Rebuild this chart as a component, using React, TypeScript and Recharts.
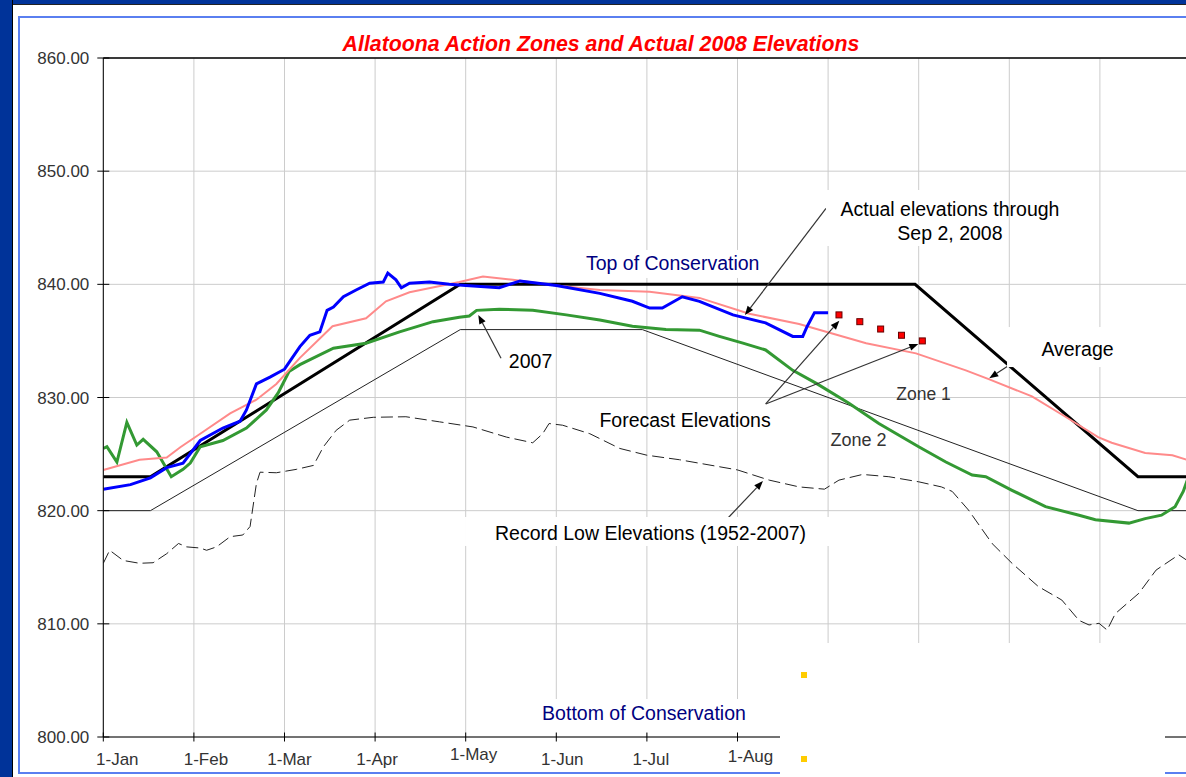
import React from 'react';
import {
  LineChart,
  Line,
  XAxis,
  YAxis,
  CartesianGrid,
  ReferenceLine,
  ReferenceDot,
} from 'recharts';

type Pt = { t: number; v: number };
// t = months since 1-Jan (the chart spaces months evenly), v = pool elevation (ft)
const pts = (rows: number[][]): Pt[] => rows.map(([t, v]) => ({ t, v }));

const monthLabels = [
  '1-Jan', '1-Feb', '1-Mar', '1-Apr', '1-May', '1-Jun',
  '1-Jul', '1-Aug', '1-Sep', '1-Oct', '1-Nov', '1-Dec',
];
const monthTicks = [0, 1, 2, 3, 4, 5, 6, 7, 8, 9, 10, 11];
const elevTicks = [800, 810, 820, 830, 840, 850, 860];

const topOfConservation = pts([
  [0, 823], [0.52, 823], [3.94, 840], [8.96, 840], [11.42, 823], [12, 823],
]);

const zoneLine = pts([
  [0, 820], [0.52, 820], [3.94, 836], [5.95, 836], [11.42, 820], [12, 820],
]);

const average = pts([
  [0, 823.6], [0.4, 824.5], [0.7, 824.7], [0.85, 825.6], [1.07, 826.8],
  [1.4, 828.6], [1.69, 829.8], [1.91, 831.2], [2.17, 833.5], [2.53, 836.3],
  [2.9, 837.0], [3.12, 838.5], [3.38, 839.3], [3.93, 840.2], [4.19, 840.7],
  [4.52, 840.4], [5.0, 839.9], [5.48, 839.5], [6.03, 839.35], [6.58, 838.8],
  [7.13, 837.4], [7.68, 836.5], [8.42, 834.8], [8.97, 833.9], [9.52, 832.4],
  [9.78, 831.6], [10.25, 830.1], [10.62, 828.3], [10.98, 826.5], [11.13, 826.0],
  [11.5, 825.1], [11.8, 824.9], [12, 824.4],
]);

const actual2008 = pts([
  [0, 821.9], [0.3, 822.3], [0.52, 822.9], [0.7, 823.8], [0.88, 824.2],
  [1.07, 826.2], [1.32, 827.3], [1.51, 827.9], [1.58, 828.9], [1.69, 831.2],
  [1.84, 831.8], [2.0, 832.5], [2.17, 834.5], [2.28, 835.5], [2.39, 835.8],
  [2.47, 837.7], [2.54, 838.0], [2.65, 838.9], [2.79, 839.5], [2.94, 840.1],
  [3.09, 840.2], [3.14, 841.0], [3.23, 840.4], [3.29, 839.7], [3.38, 840.1],
  [3.6, 840.2], [3.82, 840.0], [4.0, 839.9], [4.37, 839.7], [4.6, 840.3],
  [5.0, 839.9], [5.48, 839.2], [5.84, 838.5], [6.03, 837.9], [6.17, 837.9],
  [6.39, 838.9], [6.58, 838.5], [6.95, 837.3], [7.31, 836.6], [7.61, 835.4],
  [7.72, 835.4], [7.77, 836.3], [7.85, 837.5], [8.0, 837.5],
]);

const year2007 = pts([
  [0, 825.5], [0.04, 825.65], [0.15, 824.3], [0.26, 827.8], [0.37, 825.8],
  [0.44, 826.3], [0.59, 825.2], [0.75, 823.0], [0.88, 823.65], [0.96, 824.2],
  [1.07, 825.65], [1.32, 826.2], [1.58, 827.3], [1.8, 828.9], [1.93, 830.4],
  [2.0, 831.5], [2.05, 832.3], [2.17, 832.9], [2.54, 834.35], [2.9, 834.8],
  [3.27, 835.8], [3.64, 836.7], [3.93, 837.1], [4.04, 837.2], [4.12, 837.7],
  [4.37, 837.8], [4.74, 837.7], [5.11, 837.3], [5.48, 836.85], [5.84, 836.3],
  [6.21, 836.0], [6.58, 835.95], [6.8, 835.4], [7.06, 834.8], [7.31, 834.2],
  [7.61, 832.4], [7.87, 831.25], [8.23, 829.5], [8.56, 827.7], [9.0, 825.65],
  [9.3, 824.3], [9.59, 823.15], [9.74, 823.0], [10.03, 821.8], [10.4, 820.35],
  [10.77, 819.6], [10.95, 819.2], [11.32, 818.9], [11.5, 819.3], [11.68, 819.6],
  [11.83, 820.35], [11.92, 821.7], [12, 823.5],
]);

const recordLow = pts([
  [0, 815.35], [0.07, 816.5], [0.22, 815.6], [0.4, 815.35], [0.55, 815.4],
  [0.7, 816.2], [0.83, 817.1], [0.92, 816.8], [1.07, 816.7], [1.14, 816.5],
  [1.25, 816.8], [1.4, 817.7], [1.54, 817.85], [1.62, 818.6], [1.69, 822.4],
  [1.73, 823.4], [1.91, 823.35], [2.13, 823.65], [2.32, 824.0], [2.43, 825.65],
  [2.57, 827.1], [2.72, 828.0], [2.98, 828.25], [3.34, 828.3], [3.71, 827.85],
  [4.08, 827.4], [4.45, 826.5], [4.74, 826.0], [4.85, 826.8], [4.92, 827.7],
  [5.07, 827.55], [5.37, 826.8], [5.7, 825.5], [6.0, 824.9], [6.36, 824.5],
  [7.0, 823.6], [7.35, 822.7], [7.68, 822.1], [7.96, 821.9], [8.12, 822.7],
  [8.38, 823.2], [8.67, 823.0], [9.0, 822.55], [9.25, 822.1], [9.37, 821.7],
  [9.55, 820.05], [9.81, 817.1], [10.03, 815.35], [10.32, 813.3], [10.58, 812.1],
  [10.77, 810.3], [10.88, 809.9], [10.99, 810.05], [11.08, 809.45], [11.17, 810.9],
  [11.43, 812.7], [11.62, 814.75], [11.87, 816.1], [12, 815.4],
]);

const forecast = pts([
  [8.12, 837.3], [8.35, 836.7], [8.58, 836.05], [8.81, 835.5], [9.04, 835.0],
]);

const FONT = '"Liberation Sans", Arial, sans-serif';
const NAVY = '#003399';

// small per-label shifts the original slide shows under the month ticks
const xLabelShift: Record<number, [number, number]> = {
  0: [14, 0], 1: [12, 0], 2: [5, 0], 3: [2, 0], 4: [8, -5], 5: [6, 0], 6: [4, 0], 7: [13, -3],
};

function YTick({ x, y, payload }: any) {
  return (
    <g>
      <line x1={x - 6} x2={x + 6} y1={y} y2={y} stroke="#000" />
      <text x={x - 14} y={y + 6} textAnchor="end" fontSize={17} fill="#333" fontFamily={FONT}>
        {Number(payload.value).toFixed(2)}
      </text>
    </g>
  );
}

function XTick({ x, y, payload }: any) {
  const [dx, dy] = xLabelShift[payload.value] ?? [8, 0];
  return (
    <g>
      <line x1={x} x2={x} y1={y - 4.5} y2={y + 4.5} stroke="#000" />
      <text x={x + dx} y={y + 28 + dy} textAnchor="middle" fontSize={17} fill="#333" fontFamily={FONT}>
        {monthLabels[payload.value]}
      </text>
    </g>
  );
}

type NoteProps = {
  cx?: number;
  cy?: number;
  lines: string[];
  size?: number;
  color?: string;
  box?: [number, number, number, number];
};

function Note({ cx = 0, cy = 0, lines, size = 19.5, color = '#000', box }: NoteProps) {
  return (
    <g>
      {box && (
        <rect x={cx + box[0]} y={cy + box[1]} width={box[2]} height={box[3]} fill="#fff" />
      )}
      {lines.map((s, i) => (
        <text
          key={i}
          x={cx}
          y={cy + i * 24}
          textAnchor="middle"
          fontSize={size}
          fill={color}
          fontFamily={FONT}
        >
          {s}
        </text>
      ))}
    </g>
  );
}

function Arrow({ x1, y1, x2, y2 }: any) {
  const a = Math.atan2(y2 - y1, x2 - x1);
  const len = 9;
  const half = 3.5;
  const bx = x2 - len * Math.cos(a);
  const by = y2 - len * Math.sin(a);
  const px = -Math.sin(a) * half;
  const py = Math.cos(a) * half;
  return (
    <g>
      <line x1={x1} y1={y1} x2={bx} y2={by} stroke="#333" strokeWidth={1.2} />
      <polygon points={`${x2},${y2} ${bx + px},${by + py} ${bx - px},${by - py}`} fill="#000" />
    </g>
  );
}

const ForecastDot = (p: any) => (
  <rect
    key={p.index}
    x={p.cx - 3}
    y={p.cy - 3}
    width={6}
    height={6}
    fill="#ff0000"
    stroke="#660000"
    strokeWidth={1}
  />
);

export default function App() {
  return (
    <div
      style={{
        position: 'fixed',
        left: 0,
        top: 0,
        width: 1186,
        height: 777,
        overflow: 'hidden',
        background: '#fff',
        fontFamily: FONT,
      }}
    >
      <div
        style={{
          position: 'absolute', left: 0, top: 0, width: 1186, height: 4,
          background: NAVY, borderBottom: '1px solid #222',
        }}
      />
      <div
        style={{
          position: 'absolute', left: 0, top: 0, width: 12, height: 777,
          background: NAVY, borderRight: '1px solid #000',
        }}
      />
      <div
        style={{
          position: 'absolute', left: 18, top: 16, width: 1168, height: 758,
          borderTop: '2px solid #5a7ff0', borderLeft: '2px solid #5a7ff0',
          borderBottom: '2px solid #5a7ff0', boxSizing: 'border-box',
        }}
      />

      <div style={{ position: 'absolute', left: 0, top: 0 }}>
        <LineChart width={1200} height={777} margin={{ top: 58, right: 9.5, bottom: 10, left: 33.3 }}>
          <CartesianGrid stroke="#cccccc" />
          <XAxis
            type="number"
            dataKey="t"
            domain={[0, 12]}
            ticks={monthTicks}
            interval={0}
            height={30}
            tickSize={0}
            tickMargin={0}
            tickLine={false}
            axisLine={{ stroke: '#000' }}
            tick={<XTick />}
            allowDataOverflow
          />
          <YAxis
            type="number"
            domain={[800, 860]}
            ticks={elevTicks}
            interval={0}
            width={70}
            tickSize={0}
            tickMargin={0}
            tickLine={false}
            axisLine={{ stroke: '#000' }}
            tick={<YTick />}
            allowDataOverflow
          />
          <ReferenceLine y={860} stroke="#000" strokeWidth={1.5} />

          <Line data={recordLow} dataKey="v" type="linear" stroke="#222" strokeWidth={1}
            strokeDasharray="12 5" dot={false} activeDot={false} isAnimationActive={false} />
          <Line data={zoneLine} dataKey="v" type="linear" stroke="#222" strokeWidth={1}
            dot={false} activeDot={false} isAnimationActive={false} />
          <Line data={topOfConservation} dataKey="v" type="linear" stroke="#000" strokeWidth={3}
            dot={false} activeDot={false} isAnimationActive={false} />
          <Line data={year2007} dataKey="v" type="linear" stroke="#339933" strokeWidth={3}
            dot={false} activeDot={false} isAnimationActive={false} />
          <Line data={average} dataKey="v" type="linear" stroke="#ff8a8a" strokeWidth={2}
            dot={false} activeDot={false} isAnimationActive={false} />
          <Line data={actual2008} dataKey="v" type="linear" stroke="#0000ff" strokeWidth={3}
            dot={false} activeDot={false} isAnimationActive={false} />
          <Line data={forecast} dataKey="v" type="linear" stroke="none"
            dot={ForecastDot} activeDot={false} isAnimationActive={false} />

          <ReferenceDot x={6.285} y={841.27} r={1}
            shape={(p: any) => <Note cx={p.cx} cy={p.cy} lines={['Top of Conservation']} color="#000080" box={[-94.5, -20, 189, 28]} />} />
          <ReferenceDot x={5.968} y={801.5} r={1}
            shape={(p: any) => <Note cx={p.cx} cy={p.cy} lines={['Bottom of Conservation']} color="#000080" box={[-109, -21, 218, 34]} />} />
          <ReferenceDot x={9.345} y={846.04} r={1}
            shape={(p: any) => <Note cx={p.cx} cy={p.cy} lines={['Actual elevations through', 'Sep 2, 2008']} box={[-124, -26, 177, 56]} />} />
          <ReferenceDot x={4.716} y={832.64} r={1}
            shape={(p: any) => <Note cx={p.cx} cy={p.cy} lines={['2007']} />} />
          <ReferenceDot x={10.753} y={833.69} r={1}
            shape={(p: any) => <Note cx={p.cx} cy={p.cy} lines={['Average']} box={[-70.5, -28.7, 119, 40]} />} />
          <ReferenceDot x={6.421} y={827.39} r={1}
            shape={(p: any) => <Note cx={p.cx} cy={p.cy} lines={['Forecast Elevations']} />} />
          <ReferenceDot x={6.04} y={817.41} r={1}
            shape={(p: any) => <Note cx={p.cx} cy={p.cy} lines={['Record Low Elevations (1952-2007)']} box={[-185.5, -23, 370, 29]} />} />
          <ReferenceDot x={9.053} y={829.78} r={1}
            shape={(p: any) => <Note cx={p.cx} cy={p.cy} lines={['Zone 1']} size={17.5} color="#333" />} />
          <ReferenceDot x={8.335} y={825.74} r={1}
            shape={(p: any) => <Note cx={p.cx} cy={p.cy} lines={['Zone 2']} size={18} color="#333" />} />

          <ReferenceLine segment={[{ x: 7.977, y: 846.72 }, { x: 7.082, y: 837.29 }]} shape={(p: any) => <Arrow {...p} />} />
          <ReferenceLine segment={[{ x: 4.39, y: 833.46 }, { x: 4.139, y: 837.29 }]} shape={(p: any) => <Arrow {...p} />} />
          <ReferenceLine segment={[{ x: 10.284, y: 834.35 }, { x: 9.779, y: 831.7 }]} shape={(p: any) => <Arrow {...p} />} />
          <ReferenceLine segment={[{ x: 7.311, y: 829.43 }, { x: 8.124, y: 836.79 }]} shape={(p: any) => <Arrow {...p} />} />
          <ReferenceLine segment={[{ x: 7.311, y: 829.43 }, { x: 8.996, y: 834.73 }]} shape={(p: any) => <Arrow {...p} />} />
          <ReferenceLine segment={[{ x: 6.895, y: 819.35 }, { x: 7.281, y: 822.62 }]} shape={(p: any) => <Arrow {...p} />} />
        </LineChart>
      </div>

      <div
        style={{
          position: 'absolute', left: 0, top: 33, width: 1202, textAlign: 'center',
          color: '#ff0000', fontSize: 21.3, lineHeight: '22px', fontWeight: 'bold', fontStyle: 'italic',
        }}
      >
        Allatoona Action Zones and Actual 2008 Elevations
      </div>

      {/* white panel laid over the lower right of the slide */}
      <div style={{ position: 'absolute', left: 780, top: 643, width: 385, height: 134, background: '#fff' }} />
      <div style={{ position: 'absolute', left: 801, top: 672, width: 6, height: 6, background: '#ffcc00' }} />
      <div style={{ position: 'absolute', left: 801, top: 756, width: 6, height: 6, background: '#ffcc00' }} />
    </div>
  );
}
